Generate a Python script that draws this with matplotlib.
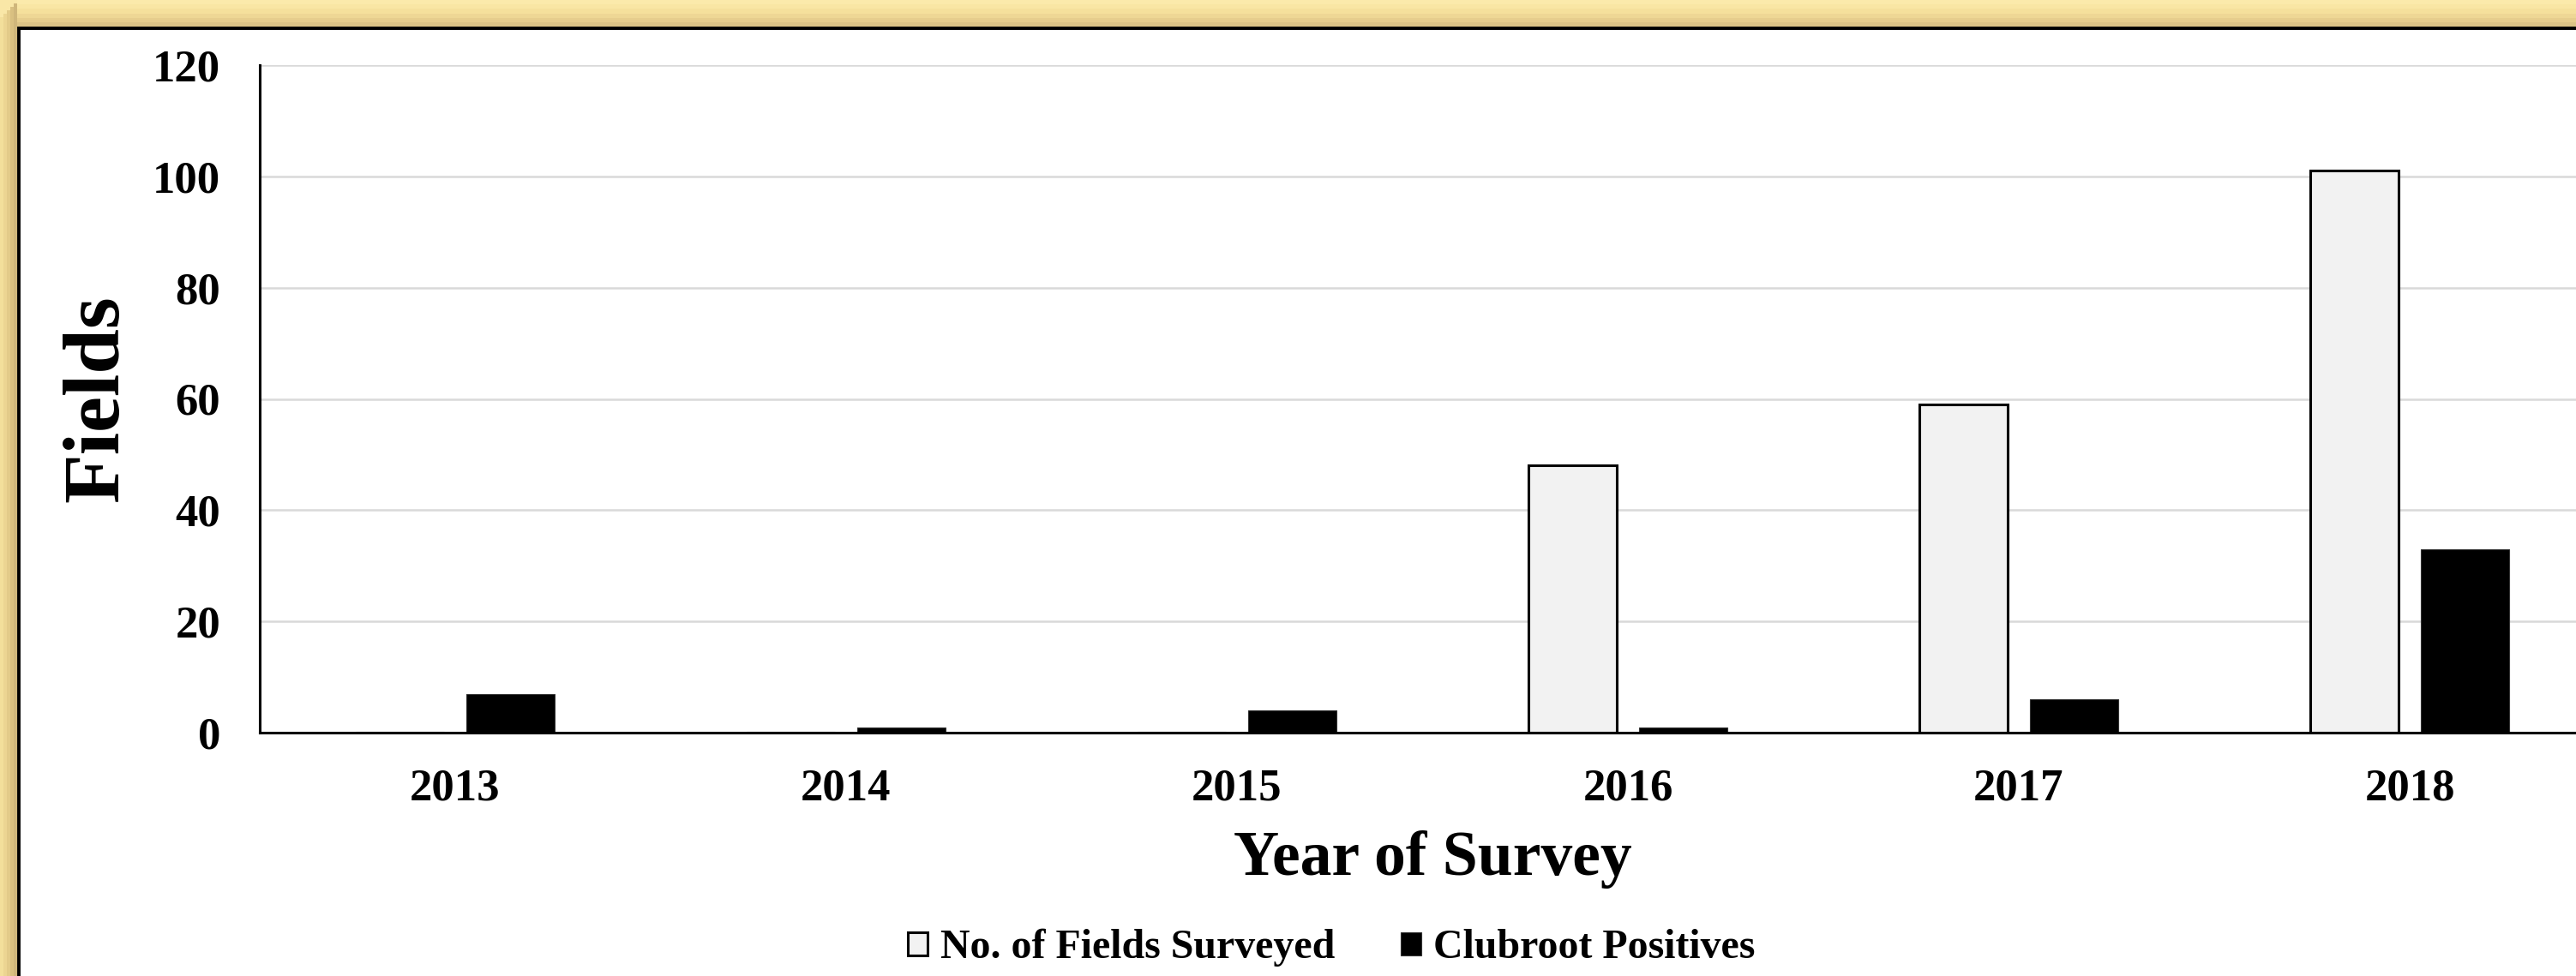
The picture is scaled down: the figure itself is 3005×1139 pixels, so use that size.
import matplotlib
matplotlib.use('Agg')
import matplotlib.pyplot as plt
import matplotlib.patches as mpatches
import numpy as np

YEARS = ['2013', '2014', '2015', '2016', '2017', '2018']
FIELDS_SURVEYED = [0, 0, 0, 48, 59, 101]
CLUBROOT_POSITIVES = [7, 1, 4, 1, 6, 33]
SERIES_LABELS = ['No. of Fields Surveyed', 'Clubroot Positives']

W, H = 3005, 1139
DPI = 100

plt.rcParams['font.family'] = ['Liberation Serif', 'DejaVu Serif']
plt.rcParams['font.weight'] = 'bold'


def fx(px):
    return px / W


def fy(py):
    # pixel row from top -> figure fraction from bottom
    return 1 - py / H


fig = plt.figure(figsize=(W / DPI, H / DPI), dpi=DPI)
fig.patch.set_facecolor('#f9e7a7')

# Yellow frame with a soft shadow towards the inner border.
top_cols = ['#fbeaab', '#f9e6a4', '#f5e09c', '#eed795', '#e6cd8d', '#dcc386']
step = 31 / len(top_cols)
for i, c in enumerate(top_cols):
    fig.patches.append(mpatches.Rectangle((fx(20), fy((i + 1) * step)), 1, step / H,
                                          transform=fig.transFigure, facecolor=c, edgecolor='none', zorder=0))
left_cols = ['#f3df9b', '#ecd592', '#e3cb89', '#d9c081', '#cfb67b']
step = 20 / len(left_cols)
for i, c in enumerate(left_cols):
    x0 = i * step
    fig.patches.append(mpatches.Rectangle((fx(x0), 0), step / W, fy(20 - x0),
                                          transform=fig.transFigure, facecolor=c, edgecolor='none', zorder=0))

# White chart panel with black border (cut off at right and bottom).
fig.patches.append(mpatches.Rectangle((fx(22), -0.1), 1.2, fy(33) + 0.1, transform=fig.transFigure,
                                      facecolor='white', edgecolor='black', linewidth=2.8, zorder=1))

ax = fig.add_axes([fx(303), fy(855), (3039 - 303) / W, (855 - 76) / H])
ax.set_facecolor('none')
ax.set_zorder(2)

x = np.arange(len(YEARS))
bar_width = 0.225
offset = 0.141

ax.bar(x - offset, FIELDS_SURVEYED, bar_width, color='#f2f2f2', edgecolor='black', linewidth=2.2,
       label=SERIES_LABELS[0], zorder=3)
ax.bar(x + offset, CLUBROOT_POSITIVES, bar_width, color='black', edgecolor='#333333', linewidth=0.8,
       label=SERIES_LABELS[1], zorder=3)

ax.set_xlim(-0.5, len(YEARS) - 0.5)
ax.set_ylim(0, 120)
ax.set_yticks(np.arange(0, 121, 20))
ax.set_xticks(x)
ax.set_xticklabels(YEARS)

ax.yaxis.grid(True, color='#d9d9d9', linewidth=1.8, zorder=0)
ax.set_axisbelow(True)

for side in ['top', 'right']:
    ax.spines[side].set_visible(False)
ax.spines['left'].set_linewidth(2.2)
ax.spines['bottom'].set_linewidth(2.2)
ax.spines['bottom'].set_zorder(4)

ax.tick_params(axis='both', length=0, labelsize=38)
ax.tick_params(axis='y', pad=33)
ax.tick_params(axis='x', pad=30)
for lbl in ax.get_xticklabels() + ax.get_yticklabels():
    lbl.set_fontweight('bold')

ax.set_ylabel('Fields', fontsize=68, fontweight='bold')
ax.yaxis.set_label_coords(-0.0687, 0.5)
ax.yaxis.label.set_va('center')

ax.set_xlabel('Year of Survey', fontsize=53, fontweight='bold')
ax.xaxis.set_label_coords(0.5, -0.19)
ax.xaxis.label.set_va('center')

fs_leg = 34.5
fig.legend(loc='center', bbox_to_anchor=(fx(1553), fy(1106)), ncol=2, frameon=False,
           prop={'size': fs_leg, 'weight': 'bold'}, handlelength=0.5, handleheight=0.5,
           handletextpad=0.3, columnspacing=1.6)

fig.savefig('out.png', dpi=DPI, facecolor=fig.get_facecolor())
plt.close(fig)
